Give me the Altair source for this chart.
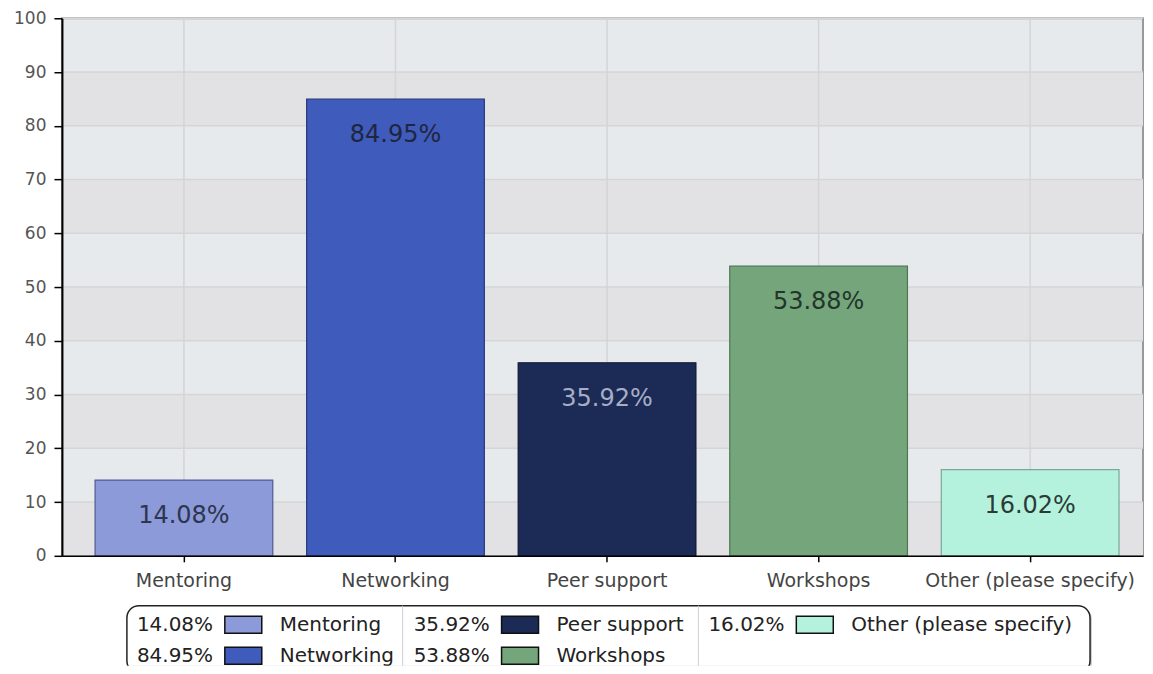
import altair as alt
import pandas as pd

# ---- data ----
categories = ["Mentoring", "Networking", "Peer support", "Workshops", "Other (please specify)"]
values = [14.08, 84.95, 35.92, 53.88, 16.02]
labels = ["14.08%", "84.95%", "35.92%", "53.88%", "16.02%"]
fill_colors = ["#8c9ad9", "#3f5bbb", "#1c2a56", "#75a57b", "#b5f2de"]
stroke_colors = ["#4f5a94", "#28397a", "#0d1533", "#4e7554", "#79a898"]
label_colors = ["#2e3550", "#1f2640", "#a6aec6", "#24352a", "#2c3a36"]
y_ticks = [0, 10, 20, 30, 40, 50, 60, 70, 80, 90, 100]
band_starts = [0, 20, 40, 60, 80]

legend_col = [0, 0, 1, 1, 2]
legend_row = [0, 1, 0, 1, 0]

FONT = "DejaVu Sans"
W = 1082

df = pd.DataFrame({
    "category": categories,
    "value": values,
    "label": labels,
    "fill": fill_colors,
    "stroke": stroke_colors,
    "lc": label_colors,
})
bands = pd.DataFrame({"lo": band_starts, "hi": [b + 10 for b in band_starts]})
ticks = pd.DataFrame({"t": y_ticks})

x_scale = alt.Scale(paddingInner=0.16, paddingOuter=0.135, align=0.58)
y_scale = alt.Scale(domain=[0, 100], nice=False, zero=True)
x_axis = alt.Axis(title=None, labelAngle=0, grid=False, domainColor="#000", domainWidth=1.5,
                  tickColor="#000", tickSize=6, tickWidth=1.5, labelPadding=10, labelLimit=0,
                  labelFont=FONT, labelFontSize=19, labelColor="#444", zindex=1)
y_axis = alt.Axis(title=None, values=y_ticks, grid=False, domainColor="#000", domainWidth=2,
                  tickColor="#000", tickSize=8, tickWidth=1.5, labelPadding=8,
                  labelFont=FONT, labelFontSize=17, labelColor="#555", zindex=1)

X = lambda: alt.X("category:N", sort=categories, scale=x_scale, axis=x_axis)

band_layer = alt.Chart(bands).mark_rect(color="#e2e2e4").encode(
    y=alt.Y("lo:Q", scale=y_scale, axis=y_axis), y2="hi:Q")
hgrid = alt.Chart(ticks).mark_rule(color="#d5d5d5", strokeWidth=1.5).encode(
    y=alt.Y("t:Q", scale=y_scale, axis=y_axis))
vgrid = alt.Chart(df).mark_rule(color="#d5d5d5", strokeWidth=1.5).encode(x=X())
bars = alt.Chart(df).mark_bar(strokeWidth=1.2).encode(
    x=X(),
    y=alt.Y("value:Q", scale=y_scale, axis=y_axis),
    fill=alt.Fill("fill:N", scale=None),
    stroke=alt.Stroke("stroke:N", scale=None),
)
texts = alt.Chart(df).mark_text(baseline="middle", dy=36, fontSize=24, font=FONT).encode(
    x=X(),
    y=alt.Y("value:Q", scale=y_scale, axis=y_axis),
    text="label:N",
    color=alt.Color("lc:N", scale=None),
)

main = alt.layer(band_layer, hgrid, vgrid, bars, texts).properties(
    width=W, height=538,
    view=alt.ViewBackground(fill="#e7eaed", stroke="#999", strokeWidth=2),
)

# ---- legend (layout constants) ----
LH = 61
col_start = [75, 352, 647]
row_y = [20, 51]
leg = pd.DataFrame({
    "pct": labels,
    "name": categories,
    "fill": fill_colors,
    "col": legend_col,
    "row": legend_row,
})
leg["px"] = [col_start[c] for c in leg["col"]]
leg["sx"] = leg["px"] + 88
leg["sx2"] = leg["sx"] + 37
leg["nx"] = leg["px"] + 143
leg["yc"] = [row_y[r] for r in leg["row"]]
leg["y1"] = leg["yc"] - 8.5
leg["y2"] = leg["yc"] + 8.5

lx = alt.Scale(domain=[0, W], range=[0, W])
ly = alt.Scale(domain=[0, LH], range=[0, LH])

box = pd.DataFrame({"x": [65], "x2": [1029], "y": [1], "y2": [68]})
shadow = pd.DataFrame({"x": [67], "x2": [1031], "y": [3], "y2": [70]})
divs = pd.DataFrame({"x": [341, 637], "y": [1, 1], "y2": [68, 68]})

shadow_l = alt.Chart(shadow).mark_rect(cornerRadius=12, fill="#cfcfcf", clip=True).encode(
    x=alt.X("x:Q", scale=lx, axis=None), x2="x2:Q",
    y=alt.Y("y:Q", scale=ly, axis=None), y2="y2:Q")
box_l = alt.Chart(box).mark_rect(cornerRadius=12, fill="#ffffff", stroke="#222", strokeWidth=1.5, clip=True).encode(
    x=alt.X("x:Q", scale=lx, axis=None), x2="x2:Q",
    y=alt.Y("y:Q", scale=ly, axis=None), y2="y2:Q")
div_l = alt.Chart(divs).mark_rule(color="#d0d0d0", strokeWidth=1, clip=True).encode(
    x=alt.X("x:Q", scale=lx, axis=None),
    y=alt.Y("y:Q", scale=ly, axis=None), y2="y2:Q")
pct_l = alt.Chart(leg).mark_text(align="left", baseline="middle", fontSize=20, font=FONT,
                                 color="#222", clip=True).encode(
    x=alt.X("px:Q", scale=lx, axis=None),
    y=alt.Y("yc:Q", scale=ly, axis=None),
    text="pct:N")
sw_l = alt.Chart(leg).mark_rect(stroke="#111", strokeWidth=1.5, clip=True).encode(
    x=alt.X("sx:Q", scale=lx, axis=None), x2="sx2:Q",
    y=alt.Y("y1:Q", scale=ly, axis=None), y2="y2:Q",
    fill=alt.Fill("fill:N", scale=None))
name_l = alt.Chart(leg).mark_text(align="left", baseline="middle", fontSize=20, font=FONT,
                                  color="#222", clip=True).encode(
    x=alt.X("nx:Q", scale=lx, axis=None),
    y=alt.Y("yc:Q", scale=ly, axis=None),
    text="name:N")

legend = alt.layer(shadow_l, box_l, div_l, pct_l, sw_l, name_l).properties(
    width=W, height=LH,
    view=alt.ViewBackground(fill=None, stroke=None, strokeWidth=0),
)

chart = alt.vconcat(main, legend, spacing=13).properties(
    padding={"left": 4, "top": 0, "right": 0, "bottom": 0},
    background="#ffffff",
)

chart.save("out.html", embed_options={"renderer": "svg", "actions": False})
